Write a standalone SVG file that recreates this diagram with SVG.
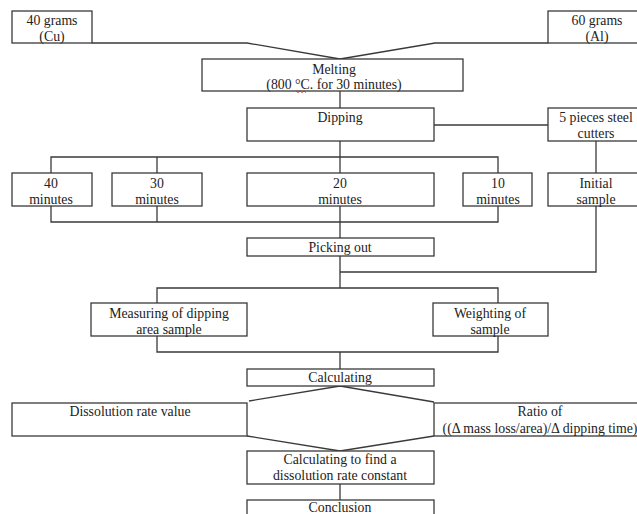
<svg xmlns="http://www.w3.org/2000/svg" width="637" height="514" viewBox="0 0 637 514">
<style>
.box{fill:#fff;stroke:#3a3a3a;stroke-width:1.3}
.ln{fill:none;stroke:#3a3a3a;stroke-width:1.3}
text{font-family:"Liberation Serif","Times New Roman",serif;font-size:13.8px;fill:#222;text-anchor:middle}
</style>
<rect width="637" height="514" fill="#fff"/>
<g id="connectors">
<polyline class="ln" points="92,43 247,43 340,59"/>
<polyline class="ln" points="548,43 435,43 340,59"/>
<line class="ln" x1="340" y1="91" x2="340" y2="108"/>
<line class="ln" x1="434" y1="125" x2="548" y2="125"/>
<line class="ln" x1="340" y1="141" x2="340" y2="173"/>
<polyline class="ln" points="51,173 51,157 498,157 498,173"/>
<line class="ln" x1="157" y1="157" x2="157" y2="173"/>
<polyline class="ln" points="51,206 51,222 498,222 498,206"/>
<line class="ln" x1="157" y1="206" x2="157" y2="222"/>
<line class="ln" x1="340" y1="206" x2="340" y2="238"/>
<line class="ln" x1="596" y1="141" x2="596" y2="173"/>
<polyline class="ln" points="596,206 596,272 340,272"/>
<line class="ln" x1="340" y1="256" x2="340" y2="288"/>
<polyline class="ln" points="157,303 157,288 498,288 498,303"/>
<polyline class="ln" points="157,336 157,352 498,352 498,336"/>
<line class="ln" x1="340" y1="352" x2="340" y2="369"/>
<polyline class="ln" points="249,401 340,386 434,402"/>
<polyline class="ln" points="247,436 340,451 434,436"/>
<line class="ln" x1="340" y1="484" x2="340" y2="500"/>
</g>
<g id="cu"><rect class="box" x="12" y="11" width="80" height="32"/><text x="52" y="25">40 grams</text><text x="52" y="41">(Cu)</text></g>
<g id="al"><rect class="box" x="548" y="11" width="98" height="32"/><text x="597" y="25">60 grams</text><text x="597" y="41">(Al)</text></g>
<g id="melting"><rect class="box" x="202" y="59" width="261" height="32"/><text x="334" y="74">Melting</text><text x="334" y="89">(800 °C. for 30 minutes)</text><path d="M296,91 l2,1.5 l2,-1.5 l2,1.5 l2,-1.5 l2,1.5" fill="none" stroke="#d02020" stroke-width="0.9"/></g>
<g id="dipping"><rect class="box" x="247" y="108" width="187" height="33"/><text x="340" y="122">Dipping</text></g>
<g id="steel"><rect class="box" x="548" y="108" width="98" height="33"/><text x="596" y="122">5 pieces steel</text><text x="596" y="138">cutters</text></g>
<g id="m40"><rect class="box" x="12" y="173" width="80" height="33"/><text x="51" y="188">40</text><text x="51" y="204">minutes</text></g>
<g id="m30"><rect class="box" x="112" y="173" width="90" height="33"/><text x="157" y="188">30</text><text x="157" y="204">minutes</text></g>
<g id="m20"><rect class="box" x="247" y="173" width="187" height="33"/><text x="340" y="188">20</text><text x="340" y="204">minutes</text></g>
<g id="m10"><rect class="box" x="463" y="173" width="69" height="33"/><text x="498" y="188">10</text><text x="498" y="204">minutes</text></g>
<g id="initial"><rect class="box" x="548" y="173" width="98" height="33"/><text x="596" y="188">Initial</text><text x="596" y="204">sample</text></g>
<g id="picking"><rect class="box" x="247" y="238" width="187" height="18"/><text x="340" y="252">Picking out</text></g>
<g id="measuring"><rect class="box" x="91" y="303" width="156" height="33"/><text x="169" y="318">Measuring of dipping</text><text x="169" y="334">area sample</text></g>
<g id="weighting"><rect class="box" x="433" y="303" width="115" height="33"/><text x="490" y="318">Weighting of</text><text x="490" y="334">sample</text></g>
<g id="calculating"><rect class="box" x="247" y="369" width="187" height="17"/><text x="340" y="382">Calculating</text></g>
<g id="dissolution"><rect class="box" x="12" y="403" width="235" height="33"/><text x="130" y="416">Dissolution rate value</text></g>
<g id="ratio"><rect class="box" x="434" y="403" width="212" height="33"/><text x="540" y="416">Ratio of</text><text x="540" y="433">((Δ mass loss/area)/Δ dipping time)</text></g>
<g id="constant"><rect class="box" x="247" y="451" width="187" height="33"/><text x="340" y="464">Calculating to find a</text><text x="340" y="480">dissolution rate constant</text></g>
<g id="conclusion"><rect class="box" x="247" y="500" width="187" height="20"/><text x="340" y="512">Conclusion</text></g>
</svg>
